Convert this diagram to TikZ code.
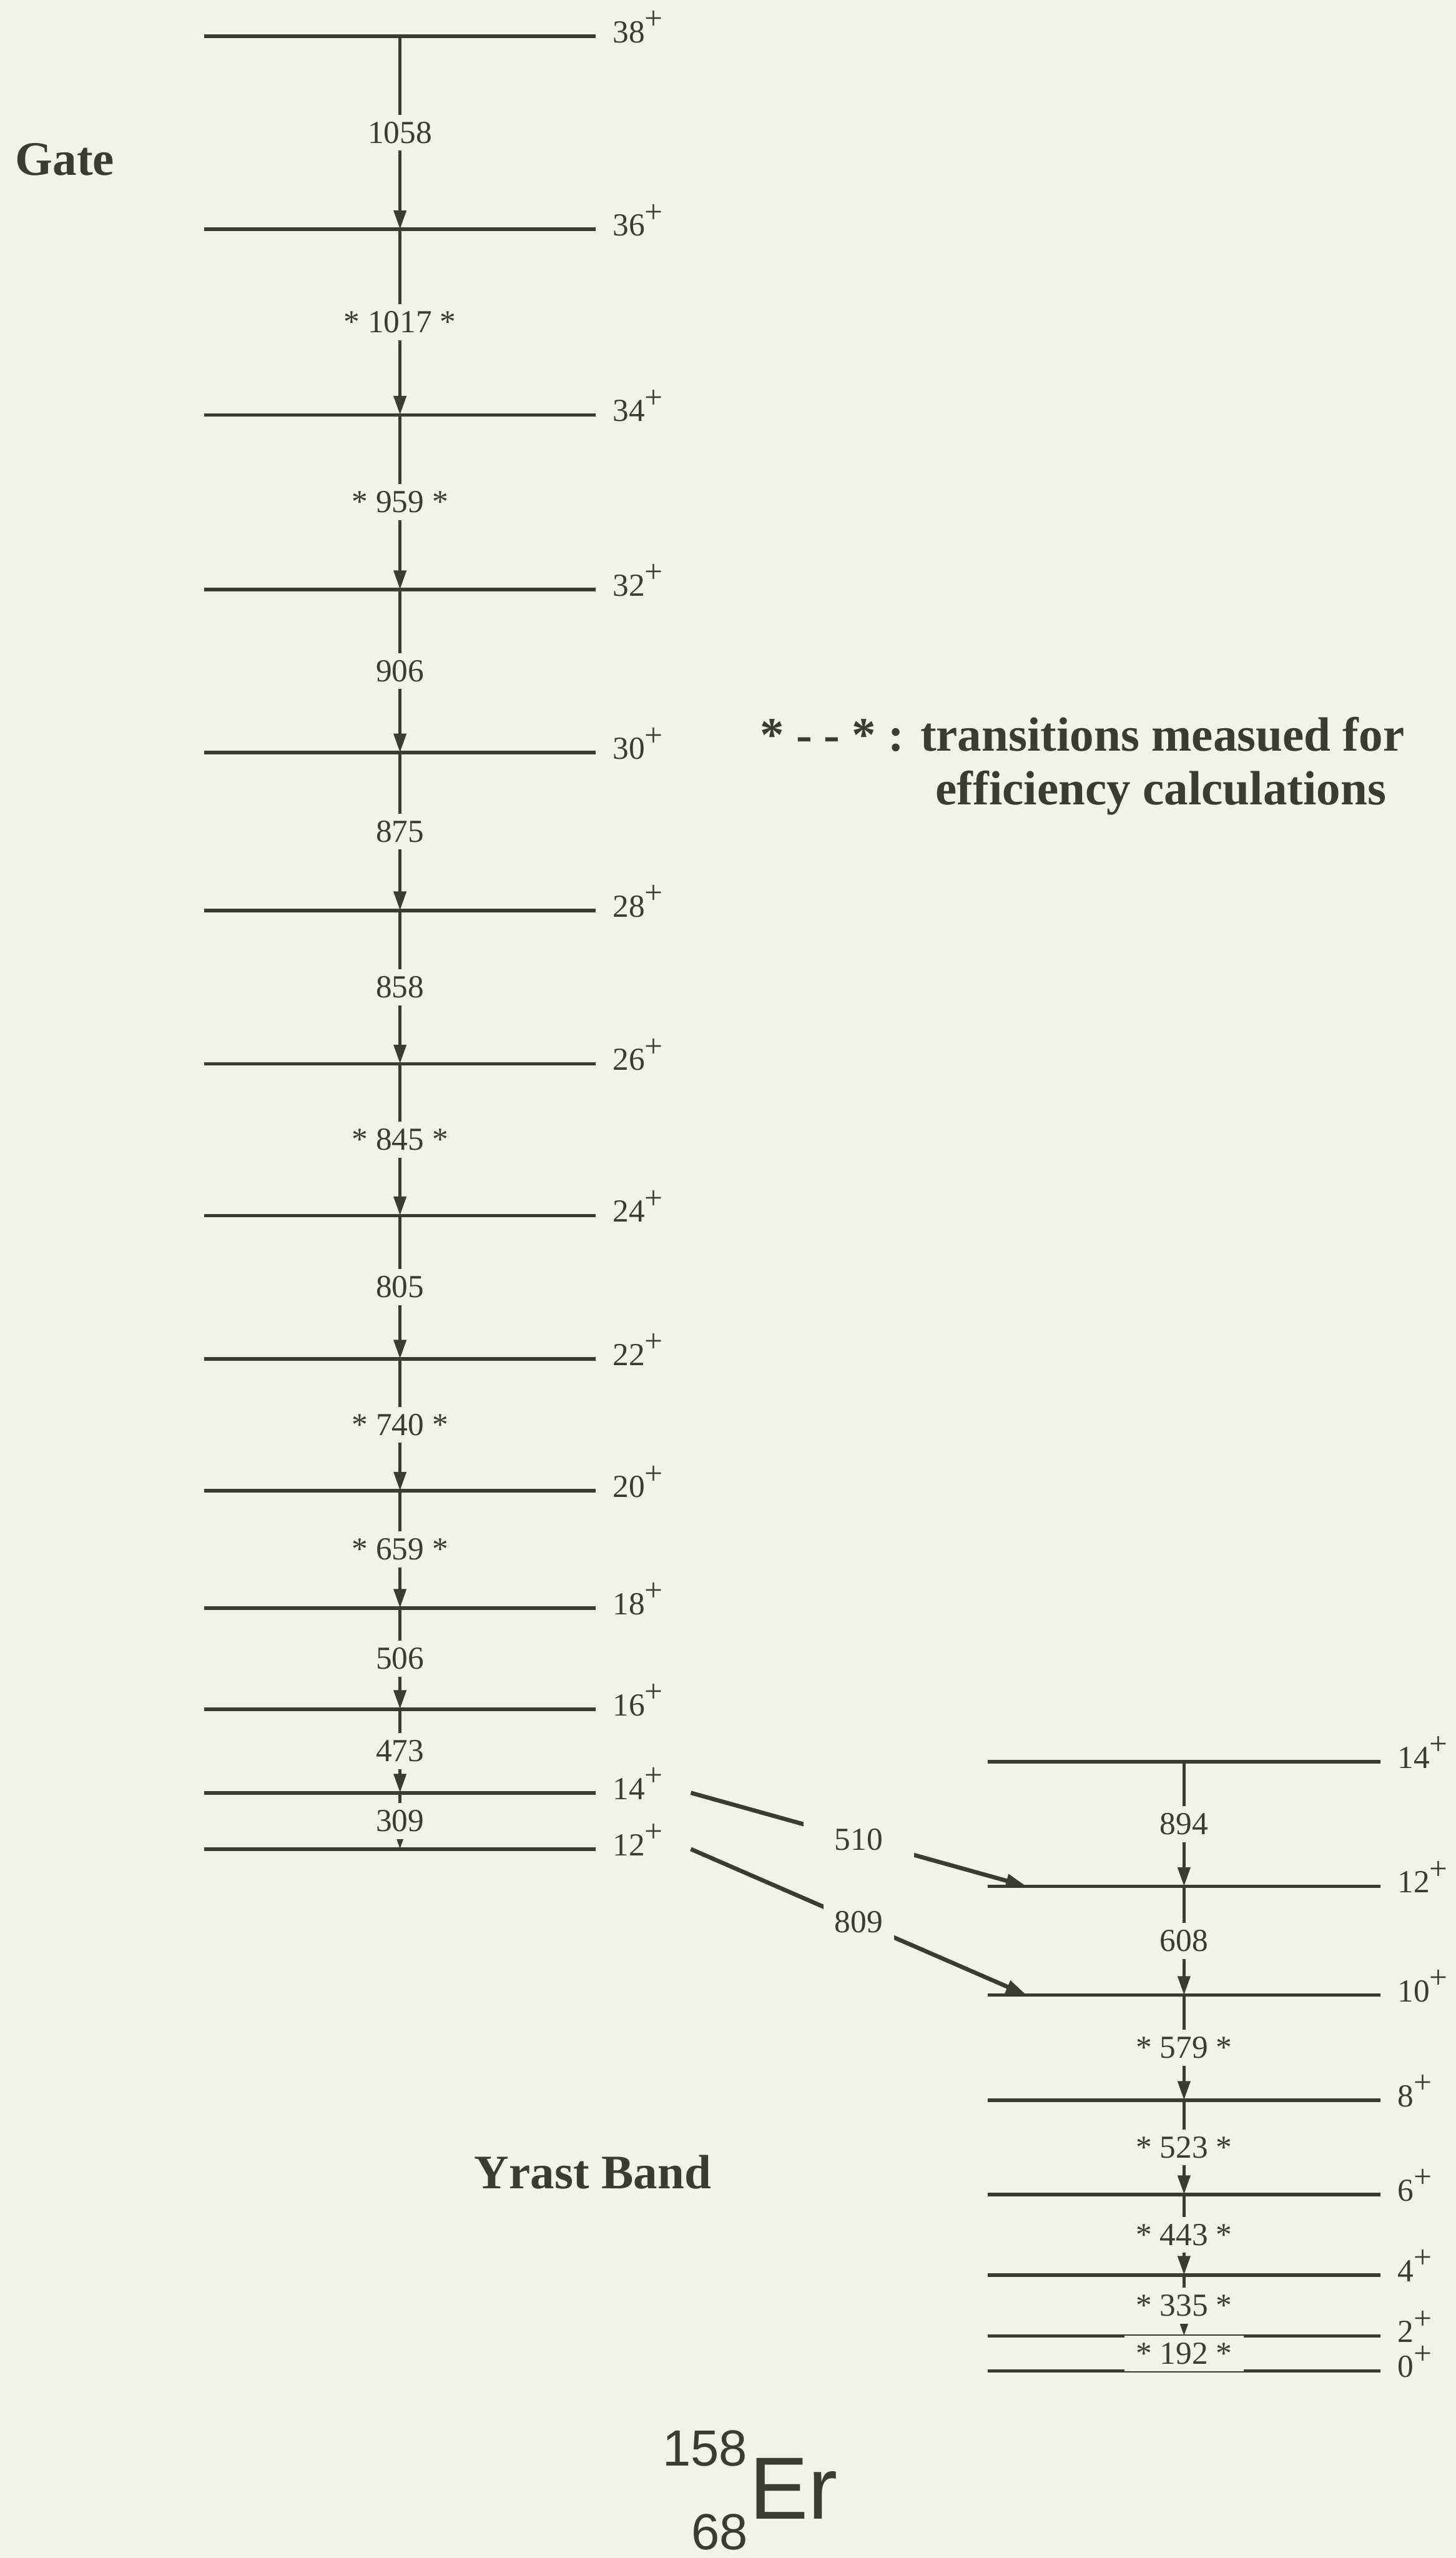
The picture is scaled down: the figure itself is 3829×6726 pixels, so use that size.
\documentclass[tikz,border=0pt]{standalone}
\usepackage{fontspec}
\setmainfont{Liberation Serif}
\setsansfont{Liberation Sans}
\usetikzlibrary{arrows.meta}
\definecolor{paper}{rgb}{0.95,0.95,0.93}
\definecolor{ink}{rgb}{0.23,0.23,0.21}
\newcommand{\spinp}[1]{#1\raisebox{0.42em}{+}}

\begin{document}
\begin{tikzpicture}[x=0.01cm,y=-0.01cm,
  lvl/.style={color=ink,line width=0.9mm},
  tr/.style={color=ink,line width=0.9mm,-{Triangle[length=5mm,width=3.2mm]}},
  xtr/.style={color=ink,line width=1.1mm,-{Triangle[length=5.5mm,width=3.4mm]}},
  spin/.style={anchor=mid west,inner sep=0pt,xshift=0.4cm,yshift=-0.09cm,text=ink,font=\fontsize{24}{28}\selectfont},
  elab/.style={fill=paper,text=ink,inner xsep=0.3cm,inner ysep=0.19cm,font=\fontsize{24}{28}\selectfont},
  head/.style={anchor=base west,inner sep=0pt,text=ink,font=\bfseries\fontsize{36}{42}\selectfont},
  iso/.style={inner sep=0pt,text=ink,font=\sffamily\fontsize{38}{38}\selectfont}]
\fill[paper] (0,0) rectangle (3829,6726);
\useasboundingbox (0,0) rectangle (3829,6726);
% gated band
\draw[lvl] (537,95) -- coordinate (g38) (1567,95) node[spin] {\spinp{38}};
\draw[lvl] (537,603) -- coordinate (g36) (1567,603) node[spin] {\spinp{36}};
\draw[lvl] (537,1091) -- coordinate (g34) (1567,1091) node[spin] {\spinp{34}};
\draw[lvl] (537,1550) -- coordinate (g32) (1567,1550) node[spin] {\spinp{32}};
\draw[lvl] (537,1979) -- coordinate (g30) (1567,1979) node[spin] {\spinp{30}};
\draw[lvl] (537,2394) -- coordinate (g28) (1567,2394) node[spin] {\spinp{28}};
\draw[lvl] (537,2797) -- coordinate (g26) (1567,2797) node[spin] {\spinp{26}};
\draw[lvl] (537,3196) -- coordinate (g24) (1567,3196) node[spin] {\spinp{24}};
\draw[lvl] (537,3573) -- coordinate (g22) (1567,3573) node[spin] {\spinp{22}};
\draw[lvl] (537,3920) -- coordinate (g20) (1567,3920) node[spin] {\spinp{20}};
\draw[lvl] (537,4228) -- coordinate (g18) (1567,4228) node[spin] {\spinp{18}};
\draw[lvl] (537,4494) -- coordinate (g16) (1567,4494) node[spin] {\spinp{16}};
\draw[lvl] (537,4714) -- coordinate (g14) (1567,4714) node[spin] {\spinp{14}};
\draw[lvl] (537,4862) -- coordinate (g12) (1567,4862) node[spin] {\spinp{12}};
% yrast band
\draw[lvl] (2597,4632) -- coordinate (y14) (3631,4632) node[spin] {\spinp{14}};
\draw[lvl] (2597,4960) -- coordinate[pos=0.1] (y12in) coordinate (y12) (3631,4960) node[spin] {\spinp{12}};
\draw[lvl] (2597,5246) -- coordinate[pos=0.1] (y10in) coordinate (y10) (3631,5246) node[spin] {\spinp{10}};
\draw[lvl] (2597,5522) -- coordinate (y8) (3631,5522) node[spin] {\spinp{8}};
\draw[lvl] (2597,5770) -- coordinate (y6) (3631,5770) node[spin] {\spinp{6}};
\draw[lvl] (2597,5982) -- coordinate (y4) (3631,5982) node[spin] {\spinp{4}};
\draw[lvl] (2597,6142) -- coordinate (y2) (3631,6142) node[spin] {\spinp{2}};
\draw[lvl] (2597,6234) -- coordinate (y0) (3631,6234) node[spin] {\spinp{0}};
% transitions
\draw[tr] (g38) -- node[elab] {1058} (g36);
\draw[tr] (g36) -- node[elab] {* 1017 *} (g34);
\draw[tr] (g34) -- node[elab] {* 959 *} (g32);
\draw[tr] (g32) -- node[elab] {906} (g30);
\draw[tr] (g30) -- node[elab] {875} (g28);
\draw[tr] (g28) -- node[elab] {858} (g26);
\draw[tr] (g26) -- node[elab] {* 845 *} (g24);
\draw[tr] (g24) -- node[elab] {805} (g22);
\draw[tr] (g22) -- node[elab] {* 740 *} (g20);
\draw[tr] (g20) -- node[elab] {* 659 *} (g18);
\draw[tr] (g18) -- node[elab] {506} (g16);
\draw[tr] (g16) -- node[elab] {473} (g14);
\draw[tr] (g14) -- node[elab] {309} (g12);
\draw[tr] (y14) -- node[elab] {894} (y12);
\draw[tr] (y12) -- node[elab] {608} (y10);
\draw[tr] (y10) -- node[elab] {* 579 *} (y8);
\draw[tr] (y8) -- node[elab] {* 523 *} (y6);
\draw[tr] (y6) -- node[elab] {* 443 *} (y4);
\draw[tr] (y4) -- node[elab] {* 335 *} (y2);
\draw[tr] (y2) -- node[elab] {* 192 *} (y0);
% links into the yrast band
\coordinate (g14out) at (1817,4714);
\coordinate (g12out) at (1817,4862);
\draw[xtr] (g14out) -- node[elab,inner xsep=0.82cm] {510} (y12in);
\draw[xtr] (g12out) -- node[elab] {809} (y10in);
% titles
\node[head] (gate) at (40,460) {Gate};
\node[head] (yrast) at (1247,5755) {Yrast Band};
\node[head] (legA) at (1998,1974) {* - - * : transitions measued for};
\node[head] (legB) at (2460,2115) {efficiency calculations};
\node[iso,anchor=base west,font=\sffamily\fontsize{66}{66}\selectfont] (er) at (1970,6624) {Er};
\node[iso,anchor=base east] (mass) at (1966,6483) {158};
\node[iso,anchor=base east] (charge) at (1968,6703) {68};
\end{tikzpicture}
\end{document}
